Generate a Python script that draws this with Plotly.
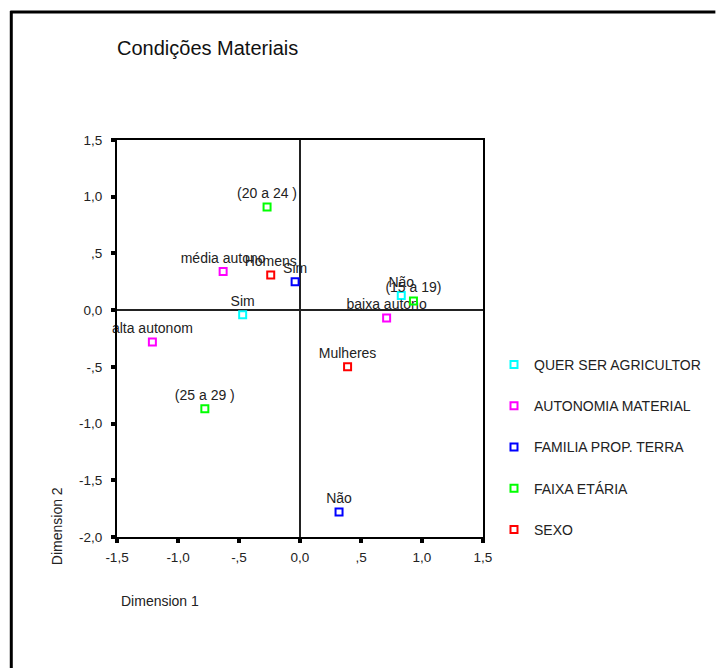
import plotly.graph_objects as go

# ---- data ----
series_names = ["QUER SER AGRICULTOR", "AUTONOMIA MATERIAL", "FAMILIA PROP. TERRA", "FAIXA ETÁRIA", "SEXO"]
series_colors = ["#00FFFF", "#FF00FF", "#0000FF", "#00FF00", "#FF0000"]

quer_labels = ["Sim", "Não"]
quer_x = [-0.47, 0.83]
quer_y = [-0.04, 0.13]

auton_labels = ["média autono", "baixa autono", "alta autonom"]
auton_x = [-0.63, 0.71, -1.21]
auton_y = [0.34, -0.07, -0.28]

familia_labels = ["Sim", "Não"]
familia_x = [-0.04, 0.32]
familia_y = [0.25, -1.78]

faixa_labels = ["(20 a 24 )", "(15 a 19)", "(25 a 29 )"]
faixa_x = [-0.27, 0.93, -0.78]
faixa_y = [0.91, 0.08, -0.87]

sexo_labels = ["Homens", "Mulheres"]
sexo_x = [-0.24, 0.39]
sexo_y = [0.31, -0.50]

tick_vals_x = [-1.5, -1.0, -0.5, 0.0, 0.5, 1.0, 1.5]
tick_text_x = ["-1,5", "-1,0", "-,5", "0,0", ",5", "1,0", "1,5"]
tick_vals_y = [-2.0, -1.5, -1.0, -0.5, 0.0, 0.5, 1.0, 1.5]
tick_text_y = ["-2,0", "-1,5", "-1,0", "-,5", "0,0", ",5", "1,0", "1,5"]

all_series = [
    (quer_labels, quer_x, quer_y),
    (auton_labels, auton_x, auton_y),
    (familia_labels, familia_x, familia_y),
    (faixa_labels, faixa_x, faixa_y),
    (sexo_labels, sexo_x, sexo_y),
]

FONT = "Liberation Sans, Arial, sans-serif"
TXT = "#222222"

fig = go.Figure()
for i, (name, color, (labels, xs, ys)) in enumerate(zip(series_names, series_colors, all_series)):
    fig.add_trace(go.Scatter(
        x=xs, y=ys, text=labels, name=name,
        mode="markers+text", textposition="top center",
        textfont=dict(family=FONT, size=14, color=TXT),
        marker=dict(symbol="square-open", size=7, color=color, line=dict(width=2, color=color)),
        cliponaxis=False,
        legendgroup=name,
    ))

W, H = 717, 668
# plot area in page pixels: x 117..484, y 140..537
L, R, T, B = 117, 484, 140, 537

def px(xp):
    return (xp - L) / (R - L)

def py(yp):
    return (B - yp) / (B - T)

axis_common = dict(
    showgrid=False, zeroline=True, zerolinecolor="#222222", zerolinewidth=1.5,
    showline=True, linecolor="black", linewidth=2, mirror=True,
    ticks="outside", ticklen=4, tickwidth=4, tickcolor="black",
    tickfont=dict(family=FONT, size=13.5, color=TXT),
)

fig.update_layout(
    width=W, height=H,
    margin=dict(l=L, r=W - R, t=T, b=H - B, pad=0),
    paper_bgcolor="white", plot_bgcolor="white",
    font=dict(family=FONT, size=14, color=TXT),
    showlegend=True,
    legend=dict(
        x=px(494), y=py(349), xanchor="left", yanchor="top",
        font=dict(family=FONT, size=14, color=TXT),
        tracegroupgap=20, bgcolor="rgba(0,0,0,0)", borderwidth=0,
    ),
    title=dict(text="Condições Materiais", xref="paper", yref="container", x=0, xanchor="left",
               y=1 - 48 / H, yanchor="middle",
               font=dict(family=FONT, size=20, color="#111111")),
    xaxis=dict(range=[-1.5, 1.5], tickvals=tick_vals_x, ticktext=tick_text_x,
               ticklabelstandoff=3, **axis_common),
    yaxis=dict(range=[-2.0, 1.5], tickvals=tick_vals_y, ticktext=tick_text_y,
               ticklabelstandoff=6, **axis_common),
    annotations=[
        dict(text="Dimension 1", xref="paper", yref="paper", x=px(119), y=py(601),
             xanchor="left", yanchor="middle", showarrow=False,
             font=dict(family=FONT, size=14, color=TXT)),
        dict(text="Dimension 2", xref="paper", yref="paper", x=px(57), y=py(526),
             xanchor="center", yanchor="middle", textangle=-90, showarrow=False,
             font=dict(family=FONT, size=14, color=TXT)),
    ],
    shapes=[
        dict(type="line", xref="paper", yref="paper", x0=px(11), x1=px(11), y0=py(11), y1=py(H),
             line=dict(color="black", width=3)),
        dict(type="line", xref="paper", yref="paper", x0=px(10), x1=px(W), y0=py(12), y1=py(12),
             line=dict(color="black", width=3)),
    ],
)

fig.write_html(
    "out.html",
    config={"displayModeBar": False},
    post_script="document.body.style.margin='0';"
                "document.body.style.overflow='hidden';"
                "document.documentElement.style.overflow='hidden';",
)
